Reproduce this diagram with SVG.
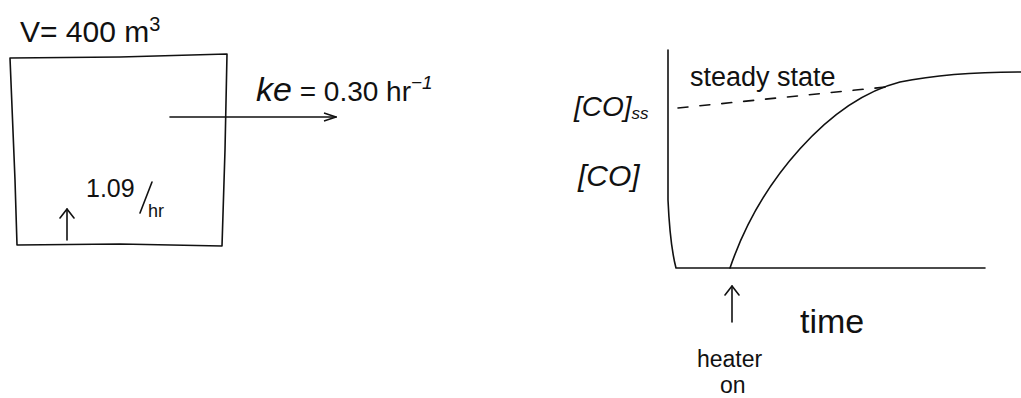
<svg xmlns="http://www.w3.org/2000/svg" width="1021" height="398" viewBox="0 0 1021 398">
<defs>
<style>
.ln{fill:none;stroke:#111;stroke-width:1.6;stroke-linecap:round;stroke-linejoin:round}
.t{font-family:"Liberation Sans",Arial,sans-serif;fill:#111}
</style>
<marker id="open" markerWidth="14" markerHeight="10" refX="13" refY="5" orient="auto" markerUnits="userSpaceOnUse">
<path d="M1,1 L13,5 L1,9" fill="none" stroke="#111" stroke-width="1.4"/>
</marker>
</defs>
<rect width="1021" height="398" fill="#fff"/>

<g id="room">
<path class="ln" d="M10,58 L120,57 L227,54 L225,150 L222,246 L120,244 L17,245 L15,180 L10,58"/>
<text class="t" x="20" y="42" font-size="30">V= 400 m<tspan font-size="20" dy="-11">3</tspan></text>
</g>

<g id="source">
<line class="ln" x1="67" y1="240" x2="67" y2="209"/>
<path class="ln" d="M60,218 L67,209 L74,218"/>
<text class="t" x="86" y="197" font-size="25">1.09</text>
<line class="ln" x1="140" y1="213" x2="152" y2="182"/>
<text class="t" x="148" y="217" font-size="18">hr</text>
</g>

<g id="exhaust">
<line class="ln" x1="170" y1="117" x2="336" y2="117" marker-end="url(#open)"/>
<text class="t" x="256" y="101" font-size="34" font-style="italic">ke<tspan font-style="normal" font-size="28"> = 0.30 hr</tspan><tspan font-size="19" dy="-12">−1</tspan></text>
</g>

<g id="graph">
<path class="ln" d="M668,50 L668,200 Q670,245 676,268 L985,268"/>
<path class="ln" d="M730,268 C760,180 830,100 900,82 C940,74 990,72 1021,72"/>
<line class="ln" x1="678" y1="108" x2="896" y2="86" stroke-dasharray="10,12" stroke-width="1.3"/>
<text class="t" x="690" y="86" font-size="27">steady state</text>
<text class="t" x="574" y="116" font-size="28" font-style="italic">[CO]<tspan font-size="17" dy="3">ss</tspan></text>
<text class="t" x="578" y="186" font-size="30" font-style="italic">[CO]</text>
<line class="ln" x1="732" y1="322" x2="732" y2="286"/>
<path class="ln" d="M725,295 L732,286 L739,295"/>
<text class="t" x="697" y="367" font-size="23">heater</text>
<text class="t" x="720" y="393" font-size="23">on</text>
<text class="t" x="800" y="333" font-size="34">time</text>
</g>
</svg>
